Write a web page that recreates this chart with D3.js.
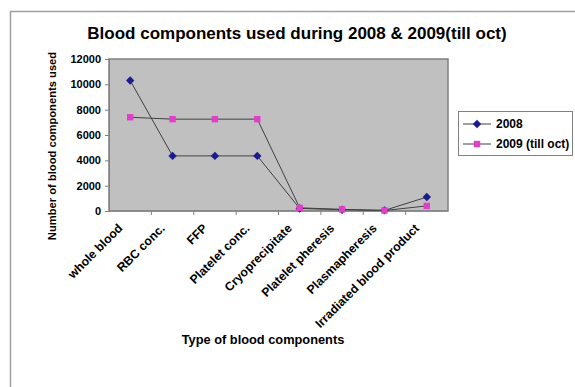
<!DOCTYPE html>
<html>
<head>
<meta charset="utf-8">
<script src="https://cdn.jsdelivr.net/npm/d3@7"></script>
<style>
  body { margin: 0; background: #fff; }
  text { font-family: "Liberation Sans", Arial, sans-serif; font-weight: bold; fill: #000; }
</style>
</head>
<body>
<div id="chart"></div>
<script>
// data
let categories = ["whole blood", "RBC conc.", "FFP", "Platelet conc.", "Cryoprecipitate",
  "Platelet pheresis", "Plasmapheresis", "Irradiated blood product"];
let values2008 = [10300, 4350, 4350, 4350, 200, 100, 50, 1100];
let values2009 = [7400, 7250, 7250, 7250, 250, 130, 40, 400];
let seriesNames = ["2008", "2009 (till oct)"];
let yTicks = [0, 2000, 4000, 6000, 8000, 10000, 12000];

let w = 575, h = 387;
let plot = { left: 109, right: 448, top: 59, bottom: 211 };

let svg = d3.select("#chart").append("svg")
  .attr("width", w)
  .attr("height", h);

// outer chart border
svg.append("rect")
  .attr("x", 10.5)
  .attr("y", 11.5)
  .attr("width", 600)
  .attr("height", 400)
  .attr("fill", "#fff")
  .attr("stroke", "#a0a0a0")
  .attr("stroke-width", 1.5);

// title
svg.append("text")
  .attr("x", 297)
  .attr("y", 39)
  .attr("text-anchor", "middle")
  .style("font-size", "17px")
  .text("Blood components used during 2008 & 2009(till oct)");

// scales
let x = d3.scaleBand().domain(categories).range([plot.left, plot.right]);
let y = d3.scaleLinear().domain([0, 12000]).range([plot.bottom, plot.top]);
let cx = d => x(d) + x.bandwidth() / 2;

// plot background
svg.append("rect")
  .attr("x", plot.left)
  .attr("y", plot.top)
  .attr("width", plot.right - plot.left)
  .attr("height", plot.bottom - plot.top)
  .attr("fill", "#c0c0c0")
  .attr("stroke", "#808080")
  .attr("stroke-width", 1.5);

// y axis
let yAxis = svg.append("g")
  .attr("transform", "translate(" + plot.left + ",0)")
  .call(d3.axisLeft(y).tickValues(yTicks).tickSize(4).tickPadding(4).tickFormat(d3.format("d")));
yAxis.select(".domain").attr("stroke", "#808080");
yAxis.selectAll(".tick line").attr("stroke", "#808080");
yAxis.selectAll("text").style("font-size", "11px").style("font-family", "Liberation Sans, Arial").style("font-weight", "bold");

// x axis line + ticks between categories
svg.append("line")
  .attr("x1", plot.left).attr("x2", plot.right)
  .attr("y1", plot.bottom).attr("y2", plot.bottom)
  .attr("stroke", "#808080");
svg.append("g").selectAll("line")
  .data(categories.slice(1))
  .join("line")
  .attr("x1", d => x(d))
  .attr("x2", d => x(d))
  .attr("y1", plot.bottom)
  .attr("y2", plot.bottom + 4)
  .attr("stroke", "#808080");

// rotated category labels
svg.append("g").selectAll("text")
  .data(categories)
  .join("text")
  .attr("transform", d => "translate(" + (cx(d) - 10) + "," + (plot.bottom + 15) + ") rotate(-45)")
  .attr("text-anchor", "end")
  .attr("dy", "0.35em")
  .style("font-size", "12.2px")
  .text(d => d);

// axis titles
svg.append("text")
  .attr("transform", "translate(56,146) rotate(-90)")
  .attr("text-anchor", "middle")
  .style("font-size", "11.2px")
  .text("Number of blood components used");
svg.append("text")
  .attr("x", 263)
  .attr("y", 344)
  .attr("text-anchor", "middle")
  .style("font-size", "12.8px")
  .text("Type of blood components");

// series
let diamond = "M0,-4.2L4.2,0L0,4.2L-4.2,0Z";
let square = "M-3.2,-3.2H3.2V3.2H-3.2Z";
let series = [
  { name: seriesNames[0], values: values2008, color: "#1c1c8e", shape: diamond },
  { name: seriesNames[1], values: values2009, color: "#e040c8", shape: square }
];
let line = d3.line()
  .x((d, i) => cx(categories[i]))
  .y(d => y(d));

series.forEach(s => {
  svg.append("path")
    .datum(s.values)
    .attr("d", line)
    .attr("fill", "none")
    .attr("stroke", "#404040")
    .attr("stroke-width", 1);
});
series.forEach(s => {
  svg.append("g").selectAll("path")
    .data(s.values)
    .join("path")
    .attr("transform", (d, i) => "translate(" + cx(categories[i]) + "," + y(d) + ")")
    .attr("d", s.shape)
    .attr("fill", s.color);
});

// legend
let legend = svg.append("g");
legend.append("rect")
  .attr("x", 458.5)
  .attr("y", 111.5)
  .attr("width", 114)
  .attr("height", 44)
  .attr("fill", "#fff")
  .attr("stroke", "#808080");
series.forEach((s, i) => {
  let ly = 124 + i * 20;
  legend.append("line")
    .attr("x1", 463).attr("x2", 491)
    .attr("y1", ly).attr("y2", ly)
    .attr("stroke", "#404040");
  legend.append("path")
    .attr("transform", "translate(477," + ly + ")")
    .attr("d", s.shape)
    .attr("fill", s.color);
  legend.append("text")
    .attr("x", 496)
    .attr("y", ly + 4)
    .style("font-size", "12px")
    .text(s.name);
});
</script>
</body>
</html>
